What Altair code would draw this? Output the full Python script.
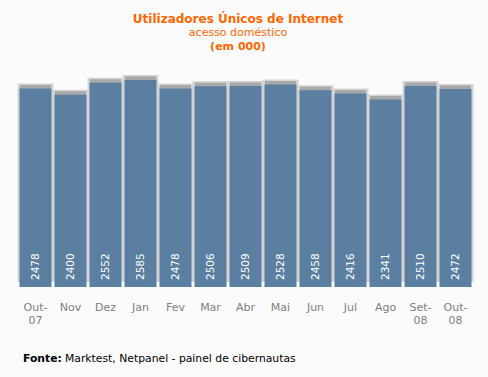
import altair as alt
import pandas as pd

months = ["Out-|07", "Nov", "Dez", "Jan", "Fev", "Mar", "Abr", "Mai", "Jun", "Jul", "Ago", "Set-|08", "Out-|08"]
values = [2478, 2400, 2552, 2585, 2478, 2506, 2509, 2528, 2458, 2416, 2341, 2510, 2472]

df = pd.DataFrame({"mes": months, "valor": values})

W, H = 455, 230
FONT = "DejaVu Sans"

x = alt.X("mes:N", sort=months, title=None,
          scale=alt.Scale(paddingInner=0.08, paddingOuter=0.04),
          axis=alt.Axis(labelAngle=0, domain=False, ticks=False, labelPadding=14,
                        labelExpr="split(datum.label, '|')", labelLineHeight=13,
                        labelColor="#808080", labelFont=FONT, labelFontSize=11))
y = alt.Y("valor:Q", title=None, scale=alt.Scale(domain=[0, 2872]), axis=None)

base = alt.Chart(df)

shadow1 = base.mark_bar(color="#d4d4d4", size=36, yOffset=-5).encode(x=x, y=y)
shadow2 = base.mark_bar(color="#a8a8a8", size=31, yOffset=-3.5).encode(x=x, y=y)
bars = base.mark_bar(color="#5a7fa0", size=32).encode(x=x, y=y)

labels = base.mark_text(angle=270, align="left", baseline="middle", color="white",
                        font=FONT, fontSize=10.5).encode(
    x=x, y=alt.value(H - 7), text=alt.Text("valor:Q", format="d"))

tdf = pd.DataFrame({"t": [0]})
tbase = alt.Chart(tdf)
title1 = tbase.mark_text(text="Utilizadores Únicos de Internet", font=FONT, fontSize=12,
                         fontWeight="bold", color="#ff6600", baseline="alphabetic").encode(
    x=alt.value(220), y=alt.value(-34))
title2 = tbase.mark_text(text="acesso doméstico", font=FONT, fontSize=11,
                         color="#ff6600", baseline="alphabetic").encode(
    x=alt.value(220), y=alt.value(-21))
title3 = tbase.mark_text(text="(em 000)", font=FONT, fontSize=11, fontWeight="bold",
                         color="#ff6600", baseline="alphabetic").encode(
    x=alt.value(220), y=alt.value(-7))
foot1 = tbase.mark_text(text="Fonte:", font=FONT, fontSize=10.8, fontWeight="bold",
                        color="#000000", baseline="alphabetic", align="left").encode(
    x=alt.value(5), y=alt.value(305))
foot2 = tbase.mark_text(text="Marktest, Netpanel - painel de cibernautas", font=FONT, fontSize=10.8,
                        color="#000000", baseline="alphabetic", align="left").encode(
    x=alt.value(47), y=alt.value(305))

chart = alt.layer(shadow1, shadow2, bars, labels, title1, title2, title3, foot1, foot2).properties(
    width=W, height=H,
    autosize=alt.AutoSizeParams(type="none"),
    padding={"left": 18, "top": 57, "right": 15, "bottom": 90},
    background="#fbfbfb",
).configure_view(stroke=None)

chart.save("out.html", embed_options={"renderer": "svg", "actions": False})
